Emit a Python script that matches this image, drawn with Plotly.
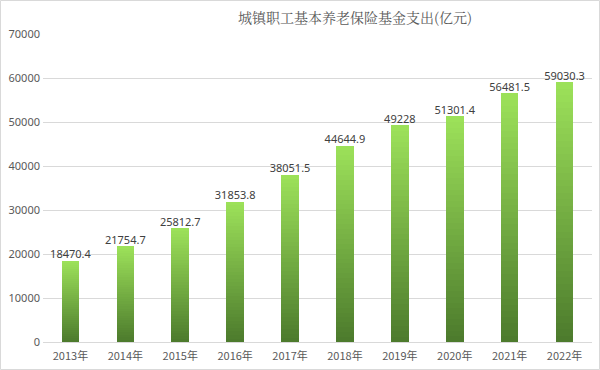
import plotly.graph_objects as go

years = ["2013年", "2014年", "2015年", "2016年", "2017年", "2018年", "2019年", "2020年", "2021年", "2022年"]
values = [18470.4, 21754.7, 25812.7, 31853.8, 38051.5, 44644.9, 49228, 51301.4, 56481.5, 59030.3]
labels = ["18470.4", "21754.7", "25812.7", "31853.8", "38051.5", "44644.9", "49228", "51301.4", "56481.5", "59030.3"]
y_ticks = [0, 10000, 20000, 30000, 40000, 50000, 60000, 70000]

top_rgb = (157, 226, 90)
bot_rgb = (76, 122, 44)
N = 40

fig = go.Figure()
for i in range(N):
    f = (i + 0.5) / N
    c = tuple(round(bot_rgb[k] + (top_rgb[k] - bot_rgb[k]) * f) for k in range(3))
    fig.add_trace(go.Bar(
        x=years, y=[v / N for v in values],
        marker=dict(color=f"rgb{c}", line=dict(width=0)),
        showlegend=False, hoverinfo="skip",
    ))

fig.add_trace(go.Scatter(
    x=years, y=values, mode="text", text=labels,
    textposition="top center",
    textfont=dict(family="Noto Sans, Open Sans, sans-serif", size=11, color="#404040"),
    showlegend=False, hoverinfo="skip", cliponaxis=False,
))

L, R, T, B = 43, 8, 34, 28
W, H = 600, 370
pw, ph = W - L - R, H - T - B

fig.update_layout(
    width=W, height=H,
    margin=dict(l=L, r=R, t=T, b=B, autoexpand=False),
    barmode="stack", bargap=0.68,
    plot_bgcolor="white", paper_bgcolor="white",
    hovermode=False,
    title=dict(
        text="城镇职工基本养老保险基金支出(亿元)",
        x=355 / W, xanchor="center", y=1 - 18 / H, yanchor="middle",
        font=dict(family="Noto Serif CJK SC, Noto Sans CJK SC, serif", size=14, color="#595959"),
    ),
    xaxis=dict(
        type="category", showgrid=False, showline=False, ticks="", automargin=False,
        ticklabelstandoff=6,
        tickfont=dict(family="Noto Sans CJK SC, sans-serif", size=11, color="#595959"),
    ),
    yaxis=dict(
        range=[0, 70000], tickvals=y_ticks, ticktext=[str(t) for t in y_ticks],
        showgrid=True, gridcolor="#d9d9d9", gridwidth=1, automargin=False,
        zeroline=True, zerolinecolor="#d9d9d9", zerolinewidth=1,
        showline=False, ticks="", ticklabelstandoff=2,
        tickfont=dict(family="Noto Sans, Open Sans, sans-serif", size=11, color="#595959"),
    ),
    shapes=[dict(
        type="rect", xref="paper", yref="paper",
        x0=(-L + 0.5) / pw, x1=(W - L - 0.5) / pw,
        y0=(-B + 0.5) / ph, y1=(H - B - 0.5) / ph,
        line=dict(color="#d9d9d9", width=1), fillcolor="rgba(0,0,0,0)", layer="above",
    )],
)

fig.write_html("out.html", config={"displayModeBar": False},
               post_script="document.body.style.margin='0';")
